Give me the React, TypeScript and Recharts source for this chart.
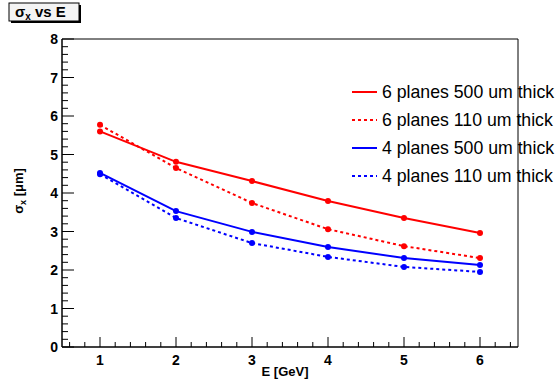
import React from 'react';
import { LineChart, Line, XAxis, YAxis, ReferenceArea } from 'recharts';

const energies = [1, 2, 3, 4, 5, 6];
const sixPlanes500 = [5.6, 4.81, 4.31, 3.79, 3.35, 2.96];
const sixPlanes110 = [5.77, 4.65, 3.74, 3.06, 2.62, 2.31];
const fourPlanes500 = [4.52, 3.53, 2.99, 2.6, 2.31, 2.13];
const fourPlanes110 = [4.49, 3.35, 2.7, 2.34, 2.08, 1.95];

const xMajorTicks = [1, 2, 3, 4, 5, 6];
const yMajorTicks = [0, 1, 2, 3, 4, 5, 6, 7, 8];

// minor ticks every 0.2, ROOT style
const xTicks = Array.from({ length: 30 }, (_, i) => Math.round((0.6 + i * 0.2) * 10) / 10).filter((v) => v < 6.5);
const yTicks = Array.from({ length: 41 }, (_, i) => Math.round(i * 0.2 * 10) / 10);

const series = [
  { key: 'six500', name: '6 planes 500 um thick', color: '#ff0000', dash: undefined, values: sixPlanes500 },
  { key: 'six110', name: '6 planes 110 um thick', color: '#ff0000', dash: '3 3', values: sixPlanes110 },
  { key: 'four500', name: '4 planes 500 um thick', color: '#0000ff', dash: undefined, values: fourPlanes500 },
  { key: 'four110', name: '4 planes 110 um thick', color: '#0000ff', dash: '3 3', values: fourPlanes110 },
];

const data = energies.map((e, i) => {
  const row: Record<string, number> = { e };
  series.forEach((s) => {
    row[s.key] = s.values[i];
  });
  return row;
});

const FONT = '"Liberation Sans", Arial, sans-serif';

const isMajor = (v: number, majors: number[]) => majors.some((m) => Math.abs(m - v) < 1e-6);

const YTick = (props: any) => {
  const { x, y, payload } = props;
  const major = isMajor(payload.value, yMajorTicks);
  return (
    <g>
      <line x1={x} y1={y} x2={x + (major ? 12 : 6)} y2={y} stroke="#000" />
      {major && (
        <text x={x - 4} y={y + 5} textAnchor="end" fontFamily={FONT} fontWeight="bold" fontSize={14} fill="#000">
          {payload.value}
        </text>
      )}
    </g>
  );
};

const XTick = (props: any) => {
  const { x, y, payload } = props;
  const major = isMajor(payload.value, xMajorTicks);
  return (
    <g>
      <line x1={x} y1={y} x2={x} y2={y - (major ? 10 : 5)} stroke="#000" />
      {major && (
        <text x={x} y={y + 18} textAnchor="middle" fontFamily={FONT} fontWeight="bold" fontSize={14} fill="#000">
          {payload.value}
        </text>
      )}
    </g>
  );
};

const LegendBox = () => (
  <div style={{ position: 'absolute', left: 350, top: 78, fontFamily: FONT, fontSize: 17.7, color: '#000' }}>
    {series.map((s) => (
      <div key={s.key} style={{ display: 'flex', alignItems: 'center', height: 28, whiteSpace: 'nowrap' }}>
        <svg width={32} height={10}>
          <line x1={2} y1={5} x2={27} y2={5} stroke={s.color} strokeWidth={2} strokeDasharray={s.dash} />
        </svg>
        <span>{s.name}</span>
      </div>
    ))}
  </div>
);

const App: React.FC = () => {
  return (
    <div style={{ position: 'absolute', left: 0, top: 0, width: 556, height: 385, background: '#fff' }}>
      <LineChart width={556} height={385} data={data} margin={{ top: 39, right: 38, left: 0, bottom: 0 }}>
        <XAxis
          dataKey="e"
          type="number"
          domain={[0.5, 6.5]}
          ticks={xTicks}
          interval={0}
          tickLine={false}
          tickSize={0}
          tickMargin={0}
          height={38}
          stroke="#000"
          tick={<XTick />}
          allowDataOverflow
        />
        <YAxis
          type="number"
          domain={[0, 8]}
          ticks={yTicks}
          interval={0}
          tickLine={false}
          tickSize={0}
          tickMargin={0}
          width={62}
          stroke="#000"
          tick={<YTick />}
          allowDataOverflow
        />
        <ReferenceArea x1={0.5} x2={6.5} y1={0} y2={8} fill="none" stroke="#000" strokeWidth={1} />
        {series.map((s) => (
          <Line
            key={s.key}
            dataKey={s.key}
            name={s.name}
            stroke={s.color}
            strokeWidth={2}
            strokeDasharray={s.dash}
            dot={{ r: 3, fill: s.color, stroke: s.color, strokeWidth: 0, strokeDasharray: '' }}
            activeDot={false}
            isAnimationActive={false}
          />
        ))}
      </LineChart>
      <LegendBox />
      <svg width={556} height={385} style={{ position: 'absolute', left: 0, top: 0, pointerEvents: 'none' }}>
        {/* title box with shadow */}
        <rect x={11} y={5} width={70} height={18} fill="#000" />
        <rect x={9} y={3} width={70} height={18} fill="#f4f4f4" stroke="#000" strokeWidth={1} />
        <text x={15} y={17} fontFamily={FONT} fontWeight="bold" fontSize={15} fill="#000">
          σ<tspan fontSize={10} dy={3}>x</tspan>
          <tspan dy={-3}> vs E</tspan>
        </text>
        <text
          transform="translate(23,191) rotate(-90)"
          textAnchor="middle"
          fontFamily={FONT}
          fontWeight="bold"
          fontSize={13}
          fill="#000"
        >
          σ<tspan fontSize={9} dy={3}>x</tspan>
          <tspan dy={-3}> [μm]</tspan>
        </text>
        <text x={285} y={376} textAnchor="middle" fontFamily={FONT} fontWeight="bold" fontSize={13} fill="#000">
          E [GeV]
        </text>
      </svg>
    </div>
  );
};

export default App;
